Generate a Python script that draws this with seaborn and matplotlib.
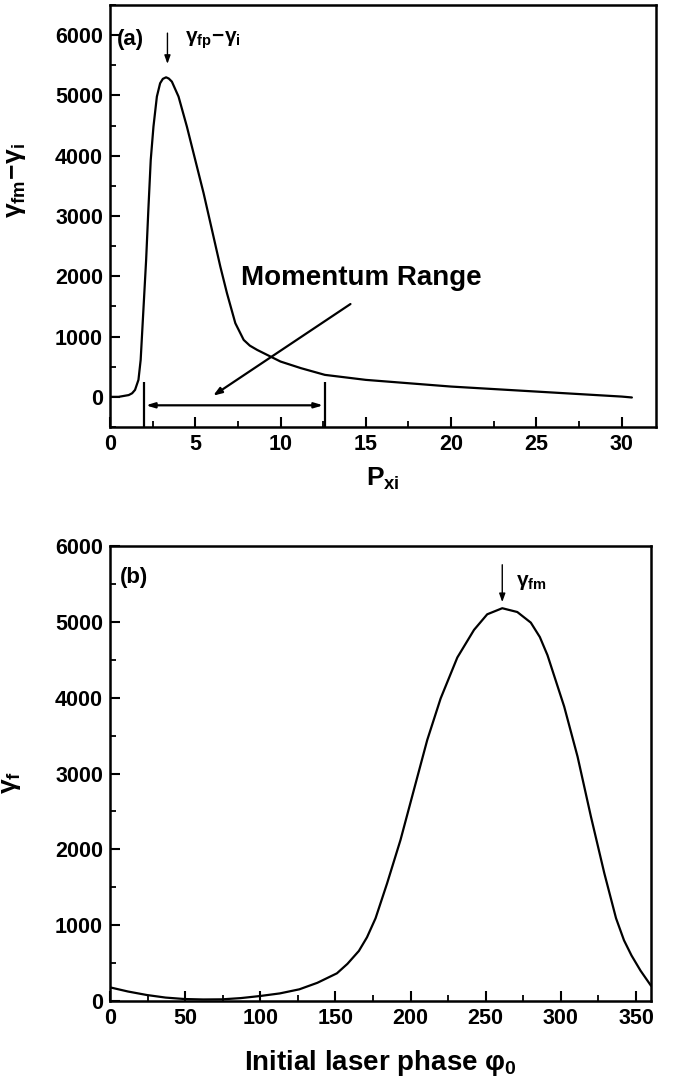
import numpy as np
import pandas as pd
import matplotlib
matplotlib.use('Agg')
import matplotlib.pyplot as plt
import seaborn as sns
from matplotlib.ticker import MultipleLocator

# panel (a): energy gain vs initial momentum
pxi = [0, 0.5, 1.1, 1.3, 1.47, 1.67, 1.8, 1.96, 2.12, 2.25, 2.39, 2.55, 2.75, 2.94, 3.1,
       3.29, 3.45, 3.63, 4.02, 4.51, 5.0, 5.49, 5.98, 6.47, 6.86, 7.35, 7.84, 8.2, 8.63,
       9.41, 10.0, 11.2, 12.6, 15, 20, 25, 30, 30.6]
gain = [0, 0, 30, 60, 116, 282, 614, 1443, 2272, 3101, 3930, 4483, 4981, 5202, 5275,
        5301, 5280, 5229, 4981, 4483, 3930, 3378, 2770, 2161, 1719, 1222, 945, 850, 779,
        669, 586, 476, 365, 282, 171, 88, 5, -10]

# panel (b): final gamma vs initial laser phase
phase = [0, 12, 24.5, 37, 49.5, 62, 74.7, 87, 100, 113, 126, 138, 151, 158, 165.6,
         171, 176.7, 184.4, 193.3, 202.2, 211.1, 220, 231.1, 242.2, 251, 261, 271, 280,
         286, 291.1, 302.2, 311.1, 320, 328.9, 336.7, 342, 347, 353, 360]
gamma_f = [180, 125, 79, 45, 26, 20, 22, 38, 66, 100, 154, 240, 365, 490, 660,
           840, 1091, 1553, 2124, 2784, 3443, 3990, 4530, 4894, 5100, 5180, 5130, 4990,
           4800, 4560, 3883, 3223, 2431, 1685, 1091, 800, 600, 400, 200]

# momentum range markers
range_lo, range_hi = 2.0, 12.6

df_a = pd.DataFrame({'pxi': pxi, 'gain': gain})
df_b = pd.DataFrame({'phase': phase, 'gamma_f': gamma_f})

sns.set_style('ticks', {'axes.edgecolor': 'black', 'text.color': 'black',
                        'axes.labelcolor': 'black', 'xtick.color': 'black',
                        'ytick.color': 'black'})
plt.rcParams['font.family'] = ['Liberation Sans', 'DejaVu Sans']
plt.rcParams['font.weight'] = 'bold'
plt.rcParams['mathtext.fontset'] = 'custom'
plt.rcParams['mathtext.rm'] = 'Liberation Sans:bold'
plt.rcParams['mathtext.it'] = 'Liberation Sans:bold'
plt.rcParams['mathtext.bf'] = 'Liberation Sans:bold'
plt.rcParams['mathtext.sf'] = 'Liberation Sans:bold'

fig = plt.figure(figsize=(6.73, 10.91), dpi=100)
ax1 = fig.add_axes([0.1634, 0.6086, 0.811, 0.3868])
ax2 = fig.add_axes([0.1634, 0.0825, 0.804, 0.417])

sns.lineplot(data=df_a, x='pxi', y='gain', ax=ax1, color='black', lw=1.6)
sns.lineplot(data=df_b, x='phase', y='gamma_f', ax=ax2, color='black', lw=1.6)

for ax in (ax1, ax2):
    for s in ax.spines.values():
        s.set_linewidth(1.8)
        s.set_visible(True)
        s.set_color('black')
    ax.tick_params(which='major', direction='in', length=7, width=1.5,
                   labelsize=15.5, top=False, right=False, pad=5, colors='black')
    ax.tick_params(which='minor', direction='in', length=4, width=1.3,
                   top=False, right=False, colors='black')

# panel (a)
ax1.set_xlim(0, 32)
ax1.set_ylim(-500, 6500)
ax1.set_xticks(np.arange(0, 31, 5))
ax1.set_yticks(np.arange(0, 6001, 1000))
ax1.xaxis.set_minor_locator(MultipleLocator(2.5))
ax1.yaxis.set_minor_locator(MultipleLocator(500))
ax1.set_xlabel(r'$P_{xi}$', fontsize=19, labelpad=8, color='black')
ax1.set_ylabel(r'$\gamma_{fm}\!-\!\gamma_i$', fontsize=19, color='black')
ax1.yaxis.set_label_coords(-0.15, 0.585)
for lab in ax1.get_xticklabels() + ax1.get_yticklabels():
    lab.set_fontweight('bold')

ax1.text(0.4, 5920, '(a)', fontsize=16, fontweight='bold', va='center', color='black')
ax1.annotate('', xy=(3.37, 5478), xytext=(3.37, 6080),
             arrowprops=dict(arrowstyle='-|>,head_length=0.5,head_width=0.18',
                             color='black', lw=1.0))
ax1.text(4.4, 5920, r'$\gamma_{fp}\!-\!\gamma_i$', fontsize=15, va='center', color='black')

ax1.vlines([range_lo, range_hi], -500, 250, color='black', lw=1.6)
ax1.annotate('', xy=(range_lo + 0.1, -140), xytext=(range_hi - 0.1, -140),
             arrowprops=dict(arrowstyle='<|-|>,head_length=0.5,head_width=0.15',
                             color='black', lw=1.6, shrinkA=0, shrinkB=0))
ax1.annotate('', xy=(6.05, 20), xytext=(14.1, 1540),
             arrowprops=dict(arrowstyle='-|>,head_length=0.5,head_width=0.18',
                             color='black', lw=1.6, shrinkA=0, shrinkB=0))
ax1.text(7.7, 1973, 'Momentum Range', fontsize=20, fontweight='bold', va='center',
         color='black')

# panel (b)
ax2.set_xlim(0, 360)
ax2.set_ylim(0, 6000)
ax2.set_xticks(np.arange(0, 351, 50))
ax2.set_yticks(np.arange(0, 6001, 1000))
ax2.xaxis.set_minor_locator(MultipleLocator(25))
ax2.yaxis.set_minor_locator(MultipleLocator(500))
ax2.set_xlabel(r'Initial laser phase $\varphi_0$', fontsize=20, fontweight='bold',
               labelpad=14, color='black')
ax2.set_ylabel(r'$\gamma_f$', fontsize=19, color='black')
ax2.yaxis.set_label_coords(-0.16, 0.48)
for lab in ax2.get_xticklabels() + ax2.get_yticklabels():
    lab.set_fontweight('bold')

ax2.text(6.7, 5580, '(b)', fontsize=16, fontweight='bold', va='center', color='black')
ax2.annotate('', xy=(261, 5224), xytext=(261, 5790),
             arrowprops=dict(arrowstyle='-|>,head_length=0.5,head_width=0.18',
                             color='black', lw=1.0))
ax2.text(270, 5515, r'$\gamma_{fm}$', fontsize=15, va='center', color='black')

fig.savefig('out.png', dpi=100)
